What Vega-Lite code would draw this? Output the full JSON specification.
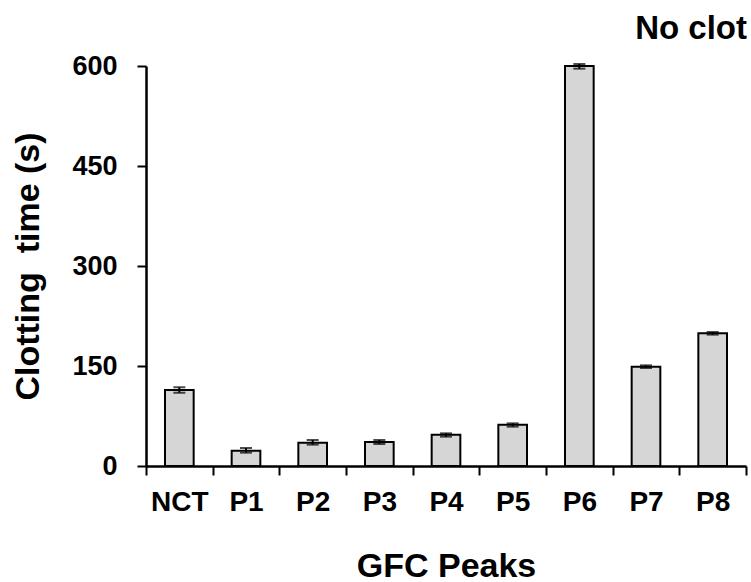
{
  "$schema": "https://vega.github.io/schema/vega-lite/v6.json",
  "width": 600,
  "height": 400,
  "autosize": "none",
  "padding": {"left": 146, "top": 66, "right": 5, "bottom": 116},
  "background": "white",
  "config": {
    "view": {"stroke": null},
    "font": "Liberation Sans"
  },
  "title": {
    "text": "No clot",
    "anchor": "end",
    "fontSize": 33,
    "fontWeight": "bold",
    "font": "Liberation Sans",
    "color": "black",
    "offset": 6
  },
  "data": {
    "values": [
      {"peak": "NCT", "time": 114, "lo": 110, "hi": 118},
      {"peak": "P1", "time": 23, "lo": 20, "hi": 27},
      {"peak": "P2", "time": 35, "lo": 32, "hi": 39},
      {"peak": "P3", "time": 36, "lo": 33, "hi": 39},
      {"peak": "P4", "time": 47, "lo": 44, "hi": 49},
      {"peak": "P5", "time": 62, "lo": 59, "hi": 64},
      {"peak": "P6", "time": 600, "lo": 596, "hi": 603},
      {"peak": "P7", "time": 149, "lo": 147, "hi": 151},
      {"peak": "P8", "time": 199, "lo": 197, "hi": 201}
    ]
  },
  "encoding": {
    "x": {
      "field": "peak",
      "type": "nominal",
      "sort": null,
      "scale": {"paddingInner": 0, "paddingOuter": 0},
      "axis": {
        "title": "GFC Peaks",
        "titleFont": "Liberation Sans",
        "titleFontSize": 34,
        "titleFontWeight": "bold",
        "titleColor": "black",
        "titlePadding": 33,
        "labelFont": "Liberation Sans",
        "labelFontSize": 28,
        "labelFontWeight": "bold",
        "labelColor": "black",
        "labelAngle": 0,
        "labelPadding": 13,
        "tickBand": "extent",
        "tickSize": 9,
        "tickWidth": 2,
        "tickColor": "black",
        "domainColor": "black",
        "domainWidth": 2.5,
        "grid": false
      }
    }
  },
  "layer": [
    {
      "mark": {"type": "bar", "width": {"band": 0.43}, "fill": "#d6d6d6", "stroke": "black", "strokeWidth": 2},
      "encoding": {
        "y": {
          "field": "time",
          "type": "quantitative",
          "scale": {"domain": [0, 600], "nice": false},
          "axis": {
            "title": "Clotting\u00a0 time (s)",
            "titleFont": "Liberation Sans",
            "titleFontSize": 34,
            "titleFontWeight": "bold",
            "titleColor": "black",
            "titlePadding": 26,
            "values": [0, 150, 300, 450, 600],
            "labelFont": "Liberation Sans",
            "labelFontSize": 27,
            "labelFontWeight": "bold",
            "labelColor": "black",
            "labelPadding": 20,
            "tickSize": 9,
            "tickWidth": 2,
            "tickColor": "black",
            "domainColor": "black",
            "domainWidth": 2.5,
            "grid": false
          }
        }
      }
    },
    {
      "mark": {"type": "rule", "color": "black", "strokeWidth": 2},
      "encoding": {
        "y": {"field": "lo", "type": "quantitative"},
        "y2": {"field": "hi"}
      }
    },
    {
      "mark": {"type": "tick", "color": "black", "thickness": 2, "size": 12},
      "encoding": {
        "y": {"field": "lo", "type": "quantitative"}
      }
    },
    {
      "mark": {"type": "tick", "color": "black", "thickness": 2, "size": 12},
      "encoding": {
        "y": {"field": "hi", "type": "quantitative"}
      }
    }
  ]
}
